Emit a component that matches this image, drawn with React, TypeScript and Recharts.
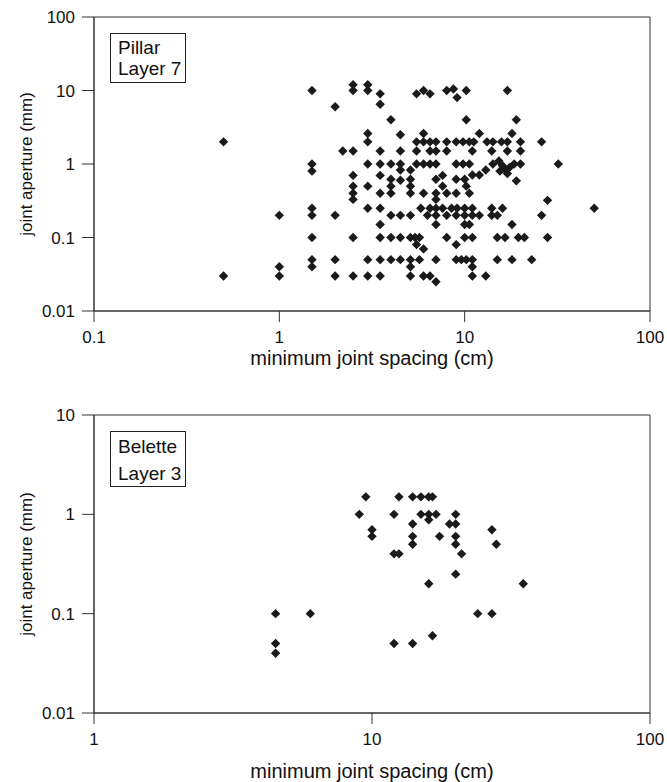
import React from "react";
import {
  ScatterChart,
  Scatter,
  XAxis,
  YAxis,
  ReferenceArea,
  Label,
} from "recharts";

// Pillar, layer 7: [minimum joint spacing (cm), joint aperture (mm)]
const pillarPoints: [number, number][] = [
  [1.5, 10], [2.5, 12], [2.5, 10], [3, 12], [3, 10], [3.5, 9], [3.5, 6.5], [2, 6],
  [5.5, 9], [6, 10], [6.5, 9], [8, 10], [8.7, 10.5], [9.1, 8], [10.2, 10], [17, 10],
  [4, 4], [10.2, 4], [19, 4],
  [3, 2.6], [4.5, 2.5], [6, 2.6], [12, 2.6], [18, 2.6],
  [0.5, 2], [3, 2], [5.5, 2], [6, 2], [6.5, 2], [7, 2], [8, 2], [9, 2], [9.8, 2],
  [10.6, 2], [11.2, 2], [13.2, 2], [14.2, 2], [15.8, 2], [17, 2], [20, 2], [26, 2],
  [2.2, 1.5], [2.5, 1.5], [3.5, 1.5], [4.5, 1.5], [5.5, 1.5], [6.5, 1.5], [7, 1.5],
  [8, 1.5], [11, 1.5], [14, 1.5], [17, 1.5], [20, 1.5],
  [1.5, 1], [3, 1], [3.5, 1], [4, 1], [4.5, 1], [5.5, 1], [6, 1], [6.5, 1], [7, 1],
  [9, 1], [9.8, 1], [10.6, 1], [14.2, 1], [18.5, 1], [20, 1], [32, 1],
  [15.3, 1.1], [13, 0.83], [12, 0.71], [11, 0.71], [16, 0.95], [16.5, 0.85],
  [17.5, 0.9], [15.5, 0.8], [17, 0.74], [19, 0.59],
  [1.5, 0.8], [4.5, 0.83], [5.1, 0.83],
  [2.5, 0.7], [3.5, 0.7], [7.6, 0.7],
  [4, 0.62], [4.5, 0.6], [5.1, 0.62], [7, 0.62], [9, 0.62], [10, 0.62],
  [2.5, 0.5], [3, 0.5], [4, 0.5], [5.1, 0.5], [7.6, 0.5], [10.2, 0.5],
  [2.5, 0.4], [3.5, 0.4], [4, 0.4], [5.1, 0.4], [6, 0.4], [7, 0.4], [8, 0.4], [9, 0.4], [10.6, 0.4],
  [2.5, 0.33], [7, 0.33], [28, 0.32],
  [1.5, 0.25], [3, 0.25], [3.5, 0.25], [5.8, 0.25], [6.5, 0.25], [7, 0.25], [7.6, 0.25],
  [8.5, 0.25], [9.1, 0.25], [10, 0.25], [11, 0.25], [14, 0.25], [16, 0.25], [50, 0.25],
  [1, 0.2], [1.5, 0.2], [2, 0.2], [4, 0.2], [4.5, 0.2], [5.1, 0.2], [6.3, 0.2], [7, 0.2],
  [8, 0.2], [9, 0.2], [10, 0.2], [11, 0.2], [12, 0.2], [14, 0.2], [15, 0.2], [26, 0.2],
  [3.5, 0.15], [7, 0.15], [10, 0.15], [10.6, 0.15], [18, 0.15],
  [1.5, 0.1], [2.5, 0.1], [3.5, 0.1], [4, 0.1], [4.5, 0.1], [5.1, 0.1], [5.4, 0.1], [5.7, 0.1],
  [8, 0.1], [10, 0.1], [11, 0.1], [15, 0.1], [16.5, 0.1], [19.5, 0.1], [21, 0.1], [28, 0.1],
  [5.5, 0.08], [6, 0.07], [9, 0.08],
  [1.5, 0.05], [2, 0.05], [3, 0.05], [3.5, 0.05], [4, 0.05], [4.5, 0.05], [5.1, 0.05], [5.7, 0.05],
  [7, 0.05], [9, 0.05], [9.6, 0.05], [10.2, 0.05], [11, 0.05], [15, 0.05], [18, 0.05], [23, 0.05],
  [1, 0.04], [1.5, 0.04], [5.1, 0.04], [11, 0.04],
  [0.5, 0.03], [1, 0.03], [2, 0.03], [2.5, 0.03], [3, 0.03], [3.5, 0.03], [5.1, 0.03],
  [6, 0.03], [6.5, 0.03], [11, 0.03], [13, 0.03],
  [7, 0.025],
];

// Belette, layer 3
const belettePoints: [number, number][] = [
  [9.5, 1.5], [12.5, 1.5], [14, 1.5], [15, 1.5], [16, 1.5], [16.5, 1.5],
  [9, 1], [12, 1], [15, 1], [16, 1], [17, 1], [20, 1],
  [16, 0.88], [20, 0.8], [19, 0.8], [14, 0.8],
  [10, 0.7], [10, 0.6], [14, 0.6], [14, 0.5], [17.5, 0.6], [20, 0.6], [20, 0.5],
  [21, 0.4], [27, 0.7], [28, 0.5], [12, 0.4], [12.5, 0.4],
  [20, 0.25], [16, 0.2], [35, 0.2],
  [4.5, 0.1], [6, 0.1], [24, 0.1], [27, 0.1],
  [4.5, 0.05], [4.5, 0.04], [12, 0.05], [14, 0.05], [16.5, 0.06],
];

const pillarXTicks = [0.1, 1, 10, 100];
const pillarYTicks = [0.01, 0.1, 1, 10, 100];
const beletteXTicks = [1, 10, 100];
const beletteYTicks = [0.01, 0.1, 1, 10];

const FONT = '"Liberation Sans", Arial, sans-serif';
const INK = "#333";

const toRows = (pts: [number, number][]) =>
  pts.map(([spacing, aperture]) => ({ spacing, aperture }));

// Excel-style filled diamond
const Diamond = (props: any) => {
  const { cx, cy } = props;
  if (cx == null || cy == null) return null;
  const r = 4.7;
  return (
    <path
      d={`M${cx},${cy - r}L${cx + r},${cy}L${cx},${cy + r}L${cx - r},${cy}Z`}
      fill="#1a1a1a"
    />
  );
};

interface PanelProps {
  points: [number, number][];
  xTicks: number[];
  yTicks: number[];
  height: number;
  top: number;
  axisHeight: number;
  titleOffset: number;
}

function Panel({ points, xTicks, yTicks, height, top, axisHeight, titleOffset }: PanelProps) {
  const xDomain = [xTicks[0], xTicks[xTicks.length - 1]];
  const yDomain = [yTicks[0], yTicks[yTicks.length - 1]];
  return (
    <ScatterChart
      width={667}
      height={height}
      margin={{ top, right: 17, bottom: 0, left: 0 }}
      style={{ fontFamily: FONT }}
    >
      <XAxis
        dataKey="spacing"
        type="number"
        scale="log"
        domain={xDomain}
        ticks={xTicks}
        allowDataOverflow
        height={axisHeight}
        tickSize={11}
        tickMargin={9}
        tick={{ fill: "#111", fontSize: 17 }}
        axisLine={{ stroke: INK }}
        tickLine={{ stroke: INK }}
      >
        <Label
          value="minimum joint spacing (cm)"
          position="insideBottom"
          offset={titleOffset}
          style={{ fill: "#111", fontSize: 20 }}
        />
      </XAxis>
      <YAxis
        dataKey="aperture"
        type="number"
        scale="log"
        domain={yDomain}
        ticks={yTicks}
        allowDataOverflow
        width={94}
        tickSize={12}
        tickMargin={7}
        tick={{ fill: "#111", fontSize: 17 }}
        axisLine={{ stroke: INK }}
        tickLine={{ stroke: INK }}
      >
        <Label
          value="joint aperture (mm)"
          angle={-90}
          position="insideLeft"
          offset={26}
          style={{ textAnchor: "middle", fill: "#111", fontSize: 17 }}
        />
      </YAxis>
      <ReferenceArea
        x1={xDomain[0]}
        x2={xDomain[1]}
        y1={yDomain[0]}
        y2={yDomain[1]}
        fill="none"
        fillOpacity={0}
        stroke={INK}
        strokeWidth={1}
      />
      <Scatter
        data={toRows(points)}
        shape={<Diamond />}
        isAnimationActive={false}
      />
    </ScatterChart>
  );
}

const boxStyle: React.CSSProperties = {
  position: "absolute",
  left: 110,
  width: 76,
  border: "1px solid #222",
  background: "#fff",
  fontFamily: FONT,
  fontSize: 19,
  color: "#111",
  boxSizing: "border-box",
  paddingLeft: 7,
};

export default function App() {
  return (
    <div
      style={{
        position: "absolute",
        left: 0,
        top: 0,
        width: 667,
        height: 782,
        background: "#fff",
      }}
    >
      <div style={{ position: "absolute", left: 0, top: 0 }}>
        <Panel
          points={pillarPoints}
          xTicks={pillarXTicks}
          yTicks={pillarYTicks}
          height={375}
          top={17}
          axisHeight={64}
          titleOffset={10}
        />
      </div>
      <div style={{ position: "absolute", left: 0, top: 375 }}>
        <Panel
          points={belettePoints}
          xTicks={beletteXTicks}
          yTicks={beletteYTicks}
          height={407}
          top={40}
          axisHeight={69}
          titleOffset={4}
        />
      </div>
      <div style={{ ...boxStyle, top: 33, height: 50, lineHeight: "21px", paddingTop: 3 }}>
        Pillar
        <br />
        Layer 7
      </div>
      <div style={{ ...boxStyle, top: 431, height: 56, lineHeight: "27px", paddingTop: 1 }}>
        Belette
        <br />
        Layer 3
      </div>
    </div>
  );
}
